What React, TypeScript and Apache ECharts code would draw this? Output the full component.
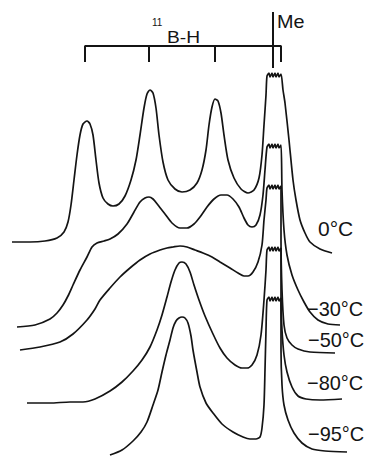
import React, { useEffect, useRef } from "react";
import * as echarts from "echarts";

// Spectra (x: field position, y: plotted position)
const spectrum0C: number[][] = [
  [12, 242], [30, 242], [45, 241], [57, 238], [64, 232], [68, 222], [71, 205], [74, 180], [77, 155], [80, 135],
  [83, 124], [87, 121], [90, 124], [93, 135], [96, 160], [99, 183], [103, 198], [108, 204], [113, 206], [119, 204],
  [125, 196], [131, 180], [136, 160], [140, 135], [144, 108], [147, 94], [150, 90], [153, 93], [156, 108], [159, 135],
  [163, 162], [168, 180], [175, 189], [182, 192], [190, 190], [197, 183], [202, 170], [206, 150], [209, 125], [212, 107],
  [215, 99], [218, 101], [221, 113], [224, 135], [228, 160], [234, 178], [241, 189], [248, 193], [254, 190], [259, 178],
  [262, 155], [264, 125], [266, 95], [267, 76], [269, 73], [270, 77], [272, 73], [273, 77], [275, 73], [276, 77],
  [278, 73], [279, 77], [281, 74], [283, 90], [285, 103], [289, 140], [293, 180], [296, 200], [300, 220], [305, 233],
  [310, 242], [320, 249], [332, 253],
];
const spectrum30C: number[][] = [
  [17, 327], [35, 325], [50, 319], [57, 313], [63, 305], [68, 296], [73, 285], [80, 270], [87, 257], [92, 247],
  [97, 243], [104, 241], [110, 239], [118, 234], [127, 224], [134, 212], [140, 202], [145, 198], [149, 197], [153, 199],
  [158, 205], [165, 214], [172, 223], [180, 228], [187, 228], [194, 224], [200, 217], [207, 207], [214, 199], [221, 195],
  [227, 195], [233, 199], [239, 207], [244, 218], [248, 225], [252, 227], [256, 225], [260, 215], [263, 195], [265, 170],
  [267, 147], [269, 144], [270, 148], [272, 144], [273, 148], [275, 144], [276, 148], [278, 144], [279, 148], [281, 145],
  [282, 190], [284, 230], [287, 255], [292, 275], [298, 290], [304, 302], [310, 312], [318, 320], [328, 324], [340, 325],
];
const spectrum50C: number[][] = [
  [20, 350], [40, 347], [60, 342], [73, 334], [87, 320], [95, 309], [100, 300], [110, 288], [120, 277], [130, 268],
  [140, 260], [150, 254], [160, 250], [167, 248], [173, 247], [180, 246], [187, 247], [195, 250], [203, 253], [212, 257],
  [220, 262], [230, 268], [238, 273], [244, 276], [248, 276], [253, 272], [258, 262], [262, 245], [264, 220], [266, 200],
  [267, 188], [269, 185], [270, 189], [272, 185], [273, 189], [275, 185], [276, 189], [278, 185], [279, 189], [281, 186],
  [281, 240], [282, 290], [284, 325], [287, 338], [292, 345], [298, 349], [310, 352], [335, 353],
];
const spectrum80C: number[][] = [
  [27, 403], [50, 403], [70, 402], [83, 402], [95, 399], [110, 391], [122, 382], [133, 371], [142, 360], [150, 347],
  [157, 330], [162, 315], [167, 297], [171, 282], [175, 270], [179, 263], [182, 262], [186, 264], [190, 272], [194, 285],
  [199, 300], [205, 316], [213, 334], [220, 348], [227, 358], [235, 365], [242, 368], [247, 368], [252, 365], [257, 355],
  [261, 335], [264, 300], [266, 270], [267, 250], [269, 247], [270, 251], [272, 247], [273, 251], [275, 247], [276, 251],
  [278, 247], [279, 251], [281, 248], [281, 300], [282, 330], [284, 355], [287, 372], [292, 387], [298, 396], [306, 399],
  [320, 400], [342, 399],
];
const spectrum95C: number[][] = [
  [110, 455], [122, 450], [133, 441], [141, 432], [147, 422], [153, 405], [158, 390], [162, 372], [166, 355], [170, 340],
  [173, 328], [176, 321], [179, 318], [182, 317], [185, 318], [188, 323], [191, 336], [193, 350], [197, 372], [200, 387],
  [206, 403], [213, 413], [222, 424], [233, 432], [243, 437], [250, 439], [256, 439], [260, 437], [262, 428], [264, 405],
  [265, 370], [266, 330], [267, 300], [269, 297], [270, 301], [272, 297], [273, 301], [275, 297], [276, 301], [278, 297],
  [279, 301], [281, 298], [281, 350], [282, 385], [284, 405], [288, 420], [294, 433], [302, 443], [312, 449], [325, 451],
  [347, 452],
];
const spectra = [spectrum0C, spectrum30C, spectrum50C, spectrum80C, spectrum95C];
const temperatureLabels = ["0°C", "−30°C", "−50°C", "−80°C", "−95°C"];

// 11B-H coupling bracket positions and methyl marker
const couplingTicks = [85, 149, 215, 281];
const methylLine: number[][] = [[273, 12], [273, 68]];

export default function App() {
  const ref = useRef<HTMLDivElement>(null);
  useEffect(() => {
    document.body.style.margin = "0";
    const chart = echarts.init(ref.current!, null, { renderer: "svg" });
    const bracketTop = 46;
    const bracketBottom = 62;
    const bracket: number[][] = [];
    couplingTicks.forEach((x, i) => {
      if (i === 0) {
        bracket.push([x, bracketBottom], [x, bracketTop]);
      } else {
        bracket.push([x, bracketTop], [x, bracketBottom]);
        if (i < couplingTicks.length - 1) bracket.push([x, bracketTop]);
      }
    });
    const lineColor = "#141414";
    const labelPos = [
      [318, 228], [307, 308], [308, 339], [307, 382], [308, 433],
    ];
    const font = (s: number) => `${s}px "Liberation Sans", Arial, sans-serif`;
    chart.setOption({
      animation: false,
      backgroundColor: "#ffffff",
      grid: { left: 0, right: 0, top: 0, bottom: 0 },
      xAxis: { type: "value", min: 0, max: 367, show: false },
      yAxis: { type: "value", min: 0, max: 456, inverse: true, show: false },
      series: [
        ...spectra.map((d, i) => ({
          type: "line",
          name: temperatureLabels[i],
          data: d,
          symbol: "none",
          smooth: 0.25,
          lineStyle: { color: lineColor, width: 1.7 },
        })),
        {
          type: "line",
          name: "bracket",
          data: bracket,
          symbol: "none",
          lineStyle: { color: lineColor, width: 2 },
        },
        {
          type: "line",
          name: "Me",
          data: methylLine,
          symbol: "none",
          lineStyle: { color: lineColor, width: 2 },
        },
      ],
      graphic: [
        ...temperatureLabels.map((t, i) => ({
          type: "text",
          x: labelPos[i][0],
          y: labelPos[i][1],
          scaleX: i === 0 ? 1 : 0.95,
          style: { text: t, font: font(21), fill: lineColor, verticalAlign: "middle" },
        })),
        {
          type: "text",
          x: 277,
          y: 22,
          scaleX: 1.1,
          style: { text: "Me", font: font(18), fill: lineColor, verticalAlign: "middle" },
        },
        {
          type: "text",
          x: 152,
          y: 22,
          style: { text: "11", font: font(10), fill: lineColor, verticalAlign: "middle" },
        },
        {
          type: "text",
          x: 167,
          y: 38,
          scaleX: 1.2,
          style: { text: "B-H", font: font(16), fill: lineColor, verticalAlign: "middle" },
        },
      ],
    });
    return () => chart.dispose();
  }, []);
  return <div ref={ref} style={{ width: 367, height: 456 }} />;
}
